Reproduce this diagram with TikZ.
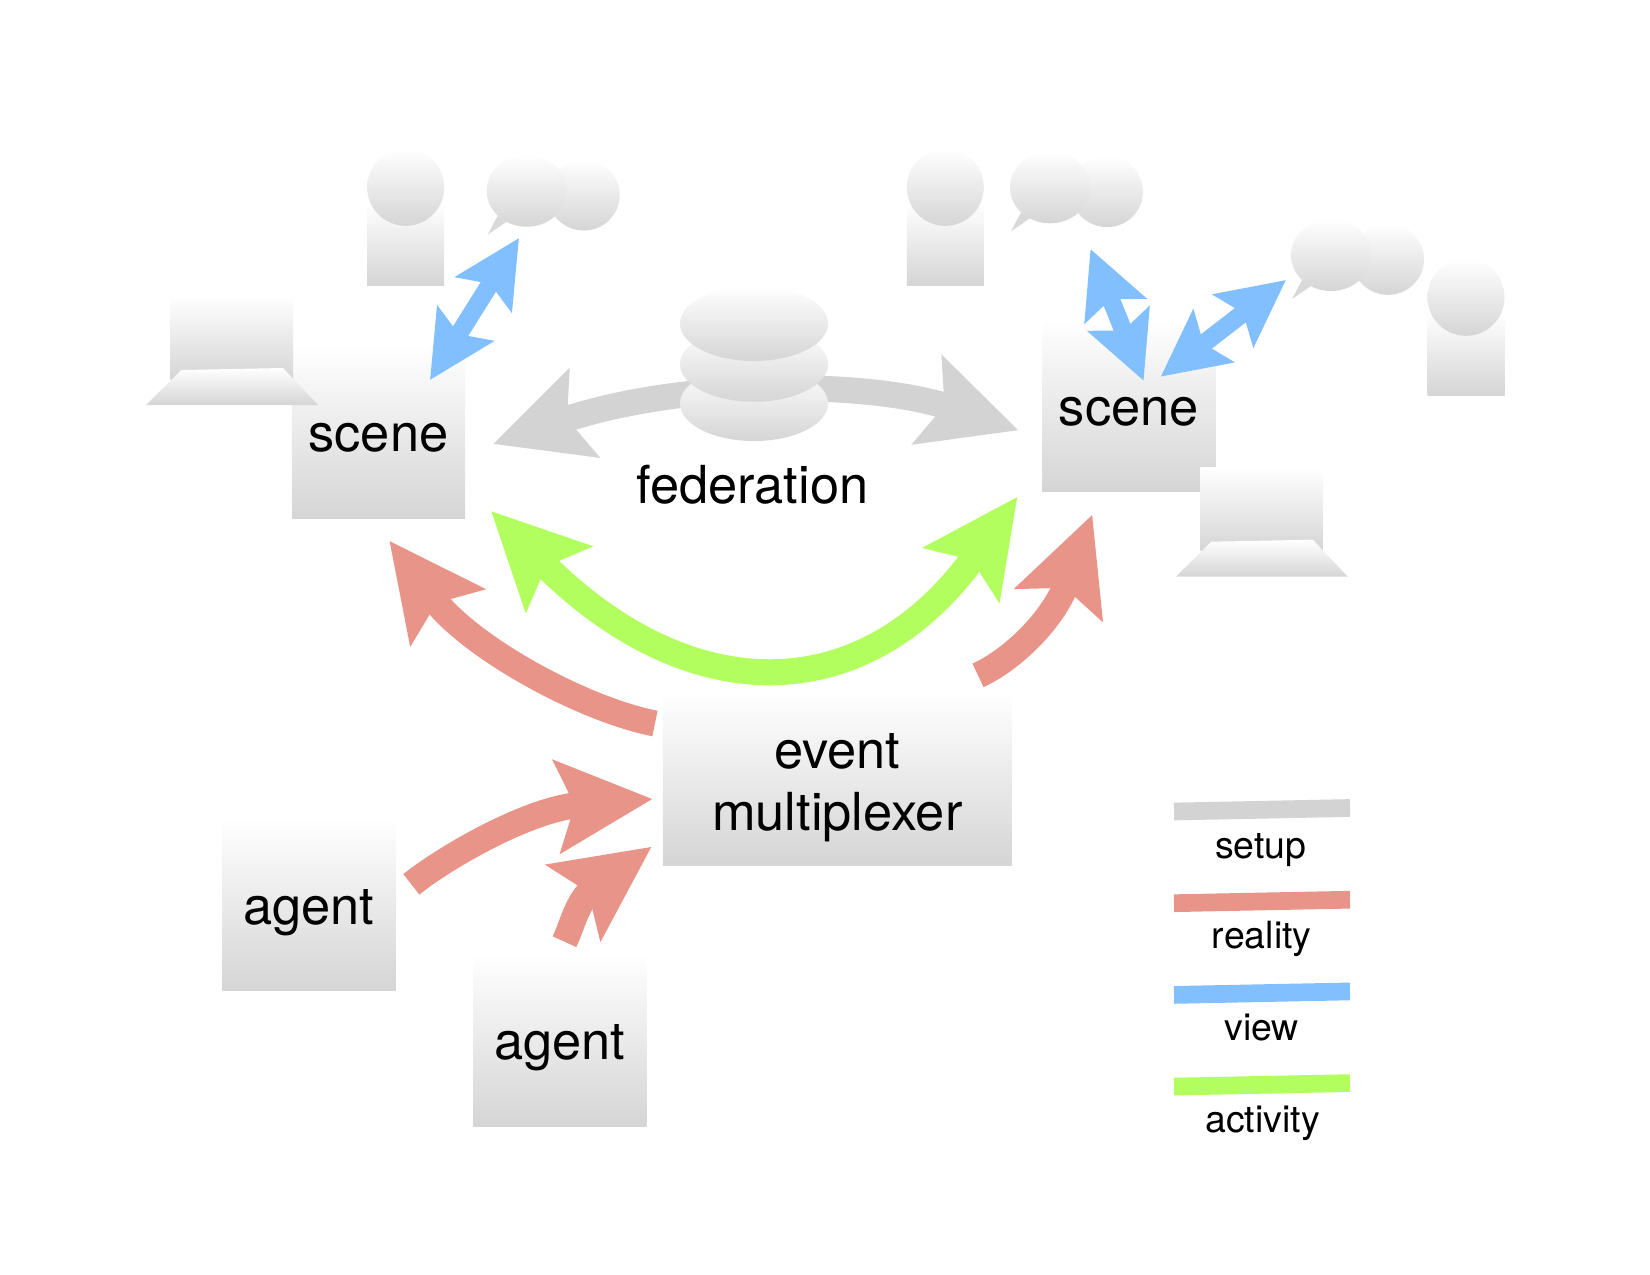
\documentclass[tikz,border=0pt]{standalone}
\usepackage{fontspec}
\setmainfont{TeX Gyre Heros}
\usetikzlibrary{arrows.meta}
\definecolor{setupgrey}{RGB}{211,211,211}
\definecolor{realityred}{RGB}{232,148,137}
\definecolor{viewblue}{RGB}{129,191,255}
\definecolor{activitygreen}{RGB}{178,254,95}
\definecolor{shadegrey}{RGB}{213,213,213}
\tikzset{
    fade/.style={top color=white, bottom color=shadegrey, draw=none},
    boxnode/.style={
        fade,
        rectangle,
        minimum width=1.73cm,
        minimum height=1.73cm,
        inner sep=0pt,
        align=center,
        text depth=0pt,
        font=\fontsize{14.9}{17.4}\selectfont
    },
    legendbar/.style={line width=0.177cm},
    legendtext/.style={anchor=base, inner sep=0pt, font=\fontsize{10.66}{12}\selectfont},
    % the big curved arrows
    setuparrow/.style={
        line width=0.26cm,
        setupgrey,
        <->,
        >={Stealth[length=0.95cm, width=0.91cm, inset=0.17cm]}
    },
    realityarrow/.style={
        line width=0.26cm,
        realityred,
        ->,
        >={Stealth[length=0.95cm, width=0.91cm, inset=0.17cm]}
    },
    activityarrow/.style={
        line width=0.26cm,
        activitygreen,
        <->,
        >={Stealth[length=0.95cm, width=0.91cm, inset=0.17cm]}
    },
    viewarrow/.style={
        line width=0.18cm,
        viewblue,
        <->,
        >={Stealth[length=0.66cm, width=0.65cm, inset=0.12cm]}
    },
    person/.pic={
        \shade[fade] (-38.5,15) rectangle (38.5,98);
        \shade[fade] (0,0) circle (0.385cm);
    },
    bubble/.pic={
        \fill[shadegrey!90] (-39,44) -- (-29,25) -- (-20,31) -- cycle;
        \shade[fade] (57,4.3) ellipse (0.36cm and 0.355cm);
        \shade[fade] (0,0) ellipse (0.40cm and 0.36cm);
    },
    laptop/.pic={
        \shade[fade] (24.5,-109) rectangle (147,-26);
        \shade[fade] (35.5,-35) -- (137,-37) -- (172,0) -- (0,0) -- cycle;
    }
}

\begin{document}
\begin{tikzpicture}[x=0.01cm, y=-0.01cm]
    \useasboundingbox (0,0) rectangle (1650,1275);

    % boxes
    \node[boxnode, text height=11.6pt] (sceneL) at (378.5,431.5) {scene};
    \node[boxnode, text height=11.4pt] (sceneR) at (1128.7,405) {scene};
    \node[boxnode, text height=29.3pt, minimum width=3.485cm] (muxbox) at (837.3,778.5) {event\\multiplexer};
    \node[boxnode, text height=11.6pt] (agentA) at (309,903.6) {agent};
    \node[boxnode, text height=11.6pt] (agentB) at (559.7,1039.5) {agent};

    % people, talk and laptops
    \pic at (405.7,187.3) {person};
    \pic at (945.3,187.3) {person};
    \pic at (1466,297.3) {person};
    \pic at (526.7,190.7) {bubble};
    \pic at (1050,187.3) {bubble};
    \pic at (1331,255) {bubble};
    \pic at (146,405) {laptop};
    \pic at (1175.8,576.7) {laptop};

    % arrow ends
    \coordinate (setupL) at (493,444);
    \coordinate (setupR) at (1018.6,430.3);
    \coordinate (activityL) at (491,511);
    \coordinate (activityR) at (1017.5,496.7);
    \coordinate (muxNW) at (655,723.5);
    \coordinate (muxNE) at (978,675.3);
    \coordinate (muxW) at (652.7,799);
    \coordinate (muxSW) at (651.7,846.7);
    \coordinate (realL) at (389.3,540.7);
    \coordinate (realR) at (1092.3,514.6);
    \coordinate (agentAout) at (411.3,884.3);
    \coordinate (agentBout) at (564.5,941.7);
    \coordinate (viewLa) at (519,238);
    \coordinate (viewLb) at (430,380);
    \coordinate (viewRa) at (1090.5,249);
    \coordinate (viewRb) at (1143.6,380.7);
    \coordinate (viewRc) at (1286,280);
    \coordinate (viewRd) at (1160.7,376.7);

    \draw[setuparrow] (setupL) .. controls (681.8,380) and (867.6,380) .. (setupR);
    \draw[activityarrow] (activityL) .. controls (689,710) and (864.4,710) .. (activityR);
    \draw[realityarrow] (muxNW) .. controls (581.5,709) and (470.5,647.5) .. (realL);
    \draw[realityarrow] (muxNE) .. controls (1010,661) and (1052.4,621.8) .. (realR);
    \draw[realityarrow] (agentAout) .. controls (446.4,856.4) and (529,808.9) .. (muxW);
    \draw[realityarrow] (agentBout) .. controls (572,926) and (578,899.5) .. (muxSW);
    \draw[viewarrow] (viewLa) -- (viewLb);
    \draw[viewarrow] (viewRa) -- (viewRb);
    \draw[viewarrow] (viewRc) -- (viewRd);

    % federation store
    \shade[fade] (754,403.5) ellipse (0.74cm and 0.375cm);
    \shade[fade] (754,364.2) ellipse (0.74cm and 0.375cm);
    \shade[fade] (754,323.5) ellipse (0.74cm and 0.375cm);
    \node[inner sep=0pt, font=\fontsize{14.9}{17.4}\selectfont] (fedlabel) at (752.4,485) {federation};

    % legend
    \draw[legendbar, setupgrey] (1174,811.5) -- (1350,808);
    \draw[legendbar, realityred] (1174,903.2) -- (1350,899.7);
    \draw[legendbar, viewblue] (1174,994.9) -- (1350,991.4);
    \draw[legendbar, activitygreen] (1174,1086.6) -- (1350,1083.1);
    \node[legendtext] (setuplabel) at (1260.7,858) {setup};
    \node[legendtext] (realitylabel) at (1261.7,948.5) {reality};
    \node[legendtext] (viewlabel) at (1261.7,1040) {view};
    \node[legendtext] (activitylabel) at (1262.5,1132.5) {activity};
\end{tikzpicture}
\end{document}
